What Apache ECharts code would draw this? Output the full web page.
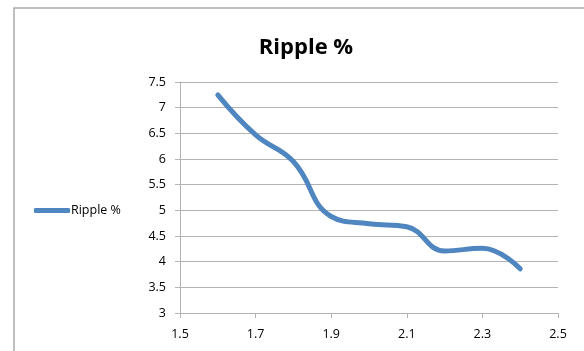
<!DOCTYPE html>
<html>
<head>
<meta charset="utf-8">
<script src="https://cdn.jsdelivr.net/npm/echarts@6/dist/echarts.min.js"></script>
<style>
  html, body { margin: 0; padding: 0; background: #fff; }
  #chart { width: 584px; height: 351px; }
</style>
</head>
<body>
<div id="chart"></div>
<script>
// Ripple percentage measured against the input value
const xValues = [1.6, 1.7, 1.8, 1.9, 2.0, 2.1, 2.2, 2.3, 2.4];
const rippleValues = [7.25, 6.47, 5.95, 4.88, 4.74, 4.68, 4.21, 4.26, 3.86];
const seriesName = 'Ripple %';
const xTicks = { min: 1.5, max: 2.5, step: 0.2 };
const yTicks = { min: 3, max: 7.5, step: 0.5 };

const points = xValues.map((x, i) => [x, rippleValues[i]]);
const fontFamily = '"Open Sans", "Liberation Sans", sans-serif';
const gridGray = '#b3b3b3';
const lineBlue = '#4f86c0';

const chart = echarts.init(document.getElementById('chart'), null, { renderer: 'canvas' });
chart.setOption({
  animation: false,
  backgroundColor: '#fff',
  graphic: [{
    type: 'rect',
    shape: { x: 14, y: 8, width: 600, height: 400 },
    style: { fill: 'none', stroke: '#ababab', lineWidth: 1.5 },
    silent: true
  }],
  title: {
    text: seriesName,
    left: 301,
    textAlign: 'center',
    top: 32,
    textStyle: { fontFamily: fontFamily, fontSize: 22, fontWeight: 'bold', color: '#000' }
  },
  legend: {
    data: [seriesName],
    left: 29,
    top: 199,
    orient: 'vertical',
    itemWidth: 36,
    itemHeight: 5,
    itemGap: 2,
    icon: 'roundRect',
    textStyle: { fontFamily: fontFamily, fontSize: 12.5, color: '#000', padding: [0, 0, 0, -4] }
  },
  grid: { left: 180, right: 26, top: 82, bottom: 38, containLabel: false },
  xAxis: {
    type: 'value',
    min: xTicks.min,
    max: xTicks.max,
    interval: xTicks.step,
    axisLine: { show: true, lineStyle: { color: gridGray, width: 1 } },
    axisTick: { show: true, length: 5, lineStyle: { color: gridGray } },
    splitLine: { show: false },
    axisLabel: {
      margin: 15,
      fontFamily: fontFamily, fontSize: 12.5, color: '#000',
      formatter: v => (Math.round(v * 10) / 10).toFixed(1)
    }
  },
  yAxis: {
    type: 'value',
    min: yTicks.min,
    max: yTicks.max,
    interval: yTicks.step,
    axisLine: { show: true, lineStyle: { color: gridGray, width: 1 } },
    axisTick: { show: true, length: 5, lineStyle: { color: gridGray } },
    splitLine: { show: true, lineStyle: { color: gridGray, width: 1 } },
    axisLabel: {
      margin: 14,
      fontFamily: fontFamily, fontSize: 12.5, color: '#000',
      formatter: v => String(Math.round(v * 10) / 10)
    }
  },
  series: [{
    name: seriesName,
    type: 'line',
    data: points,
    smooth: 0.45,
    showSymbol: false,
    symbol: 'none',
    lineStyle: { color: lineBlue, width: 5, cap: 'round', join: 'round' },
    itemStyle: { color: lineBlue }
  }]
});
</script>
</body>
</html>
